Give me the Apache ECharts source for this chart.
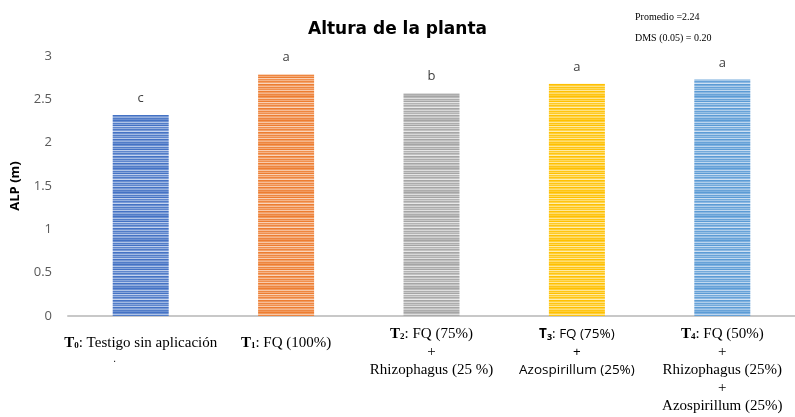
<!DOCTYPE html>
<html>
<head>
<meta charset="utf-8">
<script src="https://cdn.jsdelivr.net/npm/echarts@6/dist/echarts.min.js"></script>
<style>
  html, body { margin: 0; padding: 0; background: #fff; }
  #main { width: 795px; height: 417px; }
</style>
</head>
<body>
<div id="main"></div>
<script>
const categories = ['T0', 'T1', 'T2', 'T3', 'T4']
const alturas = [2.32, 2.79, 2.57, 2.68, 2.73]
const letras = ['c', 'a', 'b', 'a', 'a']
const yTicks = [0, 0.5, 1, 1.5, 2, 2.5, 3]
const notas = ['Promedio =2.24', 'DMS (0.05) = 0.20']

// colores base de cada barra (oscuro, claro)
const colores = [
  ['#4472c4', '#c9d7f0'],
  ['#ed7d31', '#fbd9c2'],
  ['#a5a5a5', '#ececec'],
  ['#ffc000', '#fff0b8'],
  ['#5b9bd5', '#d3e4f5']
]

// patron de rayas horizontales
const rayas = [0, 0.3, 0.8, 0.1, 0.5, 0, 0.9, 0.2, 0.6, 0.1, 0.4, 0.95, 0, 0.3, 0.7, 0.1, 0.5, 0.2, 0.85, 0, 0.4, 0.6, 0.1, 0.3]

function mezcla(a, b, t) {
  const pa = [1, 3, 5].map(i => parseInt(a.substr(i, 2), 16))
  const pb = [1, 3, 5].map(i => parseInt(b.substr(i, 2), 16))
  return 'rgb(' + pa.map((v, i) => Math.round(v + (pb[i] - v) * t)).join(',') + ')'
}

function patron(par) {
  const c = document.createElement('canvas')
  c.width = 8
  c.height = rayas.length
  const ctx = c.getContext('2d')
  rayas.forEach((t, i) => {
    ctx.fillStyle = mezcla(par[0], par[1], t)
    ctx.fillRect(0, i, 8, 1)
  })
  return { image: c, repeat: 'repeat' }
}

const serif = '"Liberation Serif", "DejaVu Serif", serif'
const sans = '"Open Sans", "Liberation Sans", sans-serif'

const etiquetas = {
  T0: '{gap| }\n{tb|T}{sub|0}{t|: Testigo sin aplicación}\n{dot|.}',
  T1: '{gap| }\n{tb|T}{sub|1}{t|: FQ (100%)}',
  T2: '{tb|T}{sub|2}{t|: FQ (75%)}\n{t|+}\n{t|Rhizophagus (25 %)}',
  T3: '{sb|T}{ssub|3}{s|: FQ (75%)}\n{s|+}\n{s|Azospirillum (25%)}',
  T4: '{tb|T}{sub|4}{t|: FQ (50%)}\n{t|+}\n{t|Rhizophagus (25%)}\n{t|+}\n{t|Azospirillum (25%)}'
}

const chart = echarts.init(document.getElementById('main'))
const option = {
  animation: false,
  title: {
    text: 'Altura de la planta',
    left: 'center',
    top: 16,
    textStyle: { fontFamily: '"DejaVu Sans", sans-serif', fontSize: 17, fontWeight: 'bold', color: '#000' }
  },
  graphic: notas.map((n, i) => ({
    type: 'text',
    left: 635,
    top: 12 + i * 21,
    style: { text: n, font: '10px ' + serif, fill: '#000' }
  })),
  grid: { left: 68, right: 0, top: 56, bottom: 101, outerBoundsMode: 'none' },
  xAxis: {
    type: 'category',
    data: categories,
    name: 'Tratamientos',
    nameLocation: 'middle',
    nameGap: 73,
    nameTextStyle: { fontFamily: sans, fontSize: 13, fontWeight: 'bold', color: '#000' },
    axisLine: { lineStyle: { color: '#c8c8c8', width: 2 } },
    axisTick: { show: false },
    axisLabel: {
      interval: 0,
      margin: 9,
      formatter: v => etiquetas[v],
      rich: {
        gap: { fontSize: 4, lineHeight: 9 },
        tb: { fontFamily: serif, fontSize: 15, fontWeight: 'bold', color: '#000', lineHeight: 18 },
        sub: { fontFamily: serif, fontSize: 9, fontWeight: 'bold', color: '#000', lineHeight: 18, padding: [6, 0, 0, 0] },
        t: { fontFamily: serif, fontSize: 15, color: '#000', lineHeight: 18 },
        sb: { fontFamily: sans, fontSize: 13.5, fontWeight: 'bold', color: '#000', lineHeight: 18 },
        ssub: { fontFamily: sans, fontSize: 9, fontWeight: 'bold', color: '#000', lineHeight: 18, padding: [6, 0, 0, 0] },
        s: { fontFamily: sans, fontSize: 13.5, color: '#000', lineHeight: 18 },
        dot: { fontSize: 10, color: '#000', lineHeight: 14, padding: [0, 52, 0, 0] }
      }
    }
  },
  yAxis: {
    type: 'value',
    min: 0,
    max: 3,
    interval: 0.5,
    name: 'ALP (m)',
    nameLocation: 'middle',
    nameGap: 46,
    nameRotate: 90,
    nameTextStyle: { fontFamily: sans, fontSize: 13, fontWeight: 'bold', color: '#000' },
    axisLine: { show: false },
    axisTick: { show: false },
    splitLine: { show: false },
    axisLabel: {
      margin: 16,
      color: '#595959',
      fontFamily: sans,
      fontSize: 13,
      formatter: v => (yTicks.includes(v) ? String(v) : '')
    }
  },
  series: [{
    type: 'bar',
    barWidth: 56,
    data: alturas.map((v, i) => ({
      value: v,
      itemStyle: { color: patron(colores[i]) }
    })),
    label: {
      show: true,
      position: 'top',
      distance: 10,
      fontFamily: sans,
      fontSize: 13,
      color: '#404040',
      formatter: p => letras[p.dataIndex]
    }
  }]
}
chart.setOption(option)
window.onresize = () => {
  chart.resize()
}
</script>
</body>
</html>
